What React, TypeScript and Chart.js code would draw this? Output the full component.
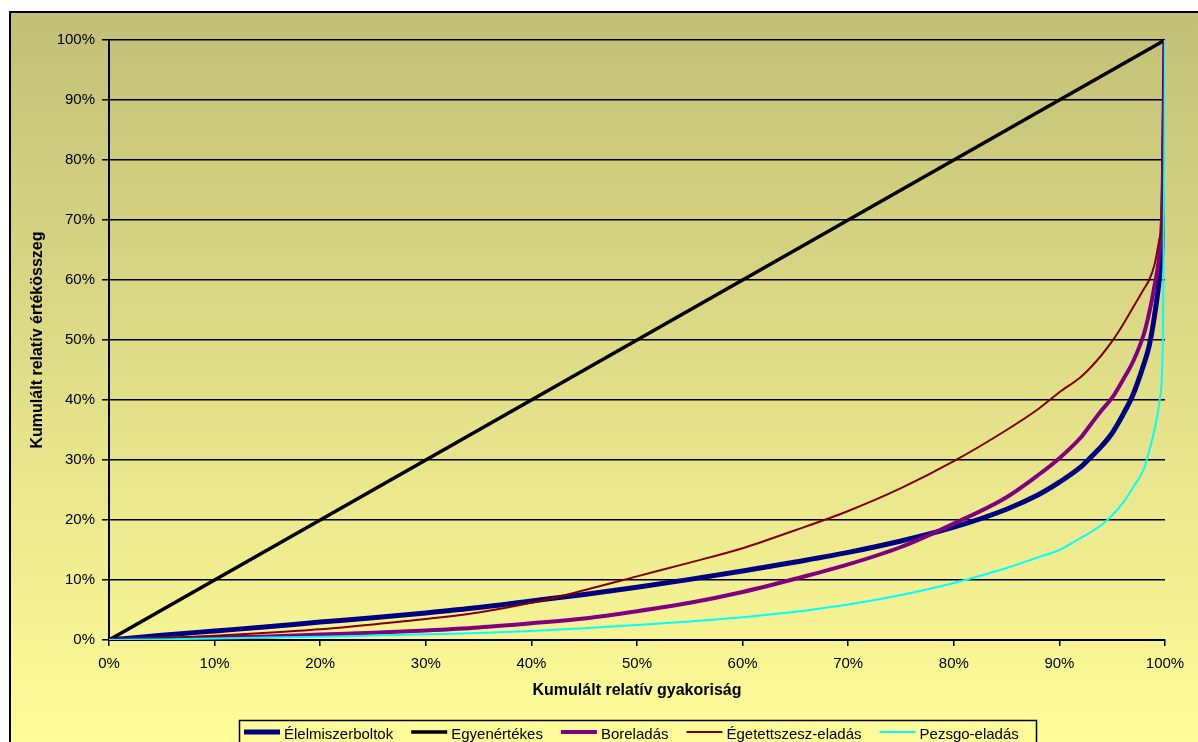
import React, { useEffect, useRef } from "react";
import { Chart, registerables } from "chart.js";

Chart.register(...registerables);

// Shared x positions (cumulative relative frequency, %)
const xValues = [0, 5, 10, 15, 20, 25, 30, 35, 40, 45, 50, 55, 60, 65, 70, 75, 80, 85, 88, 90, 92, 93, 94, 95, 96, 97, 98, 98.5, 99, 99.5, 99.8, 100];

const elelmiszerboltok = [0, 0.8, 1.5, 2.2, 3.0, 3.7, 4.5, 5.4, 6.5, 7.6, 8.8, 10.1, 11.5, 13.0, 14.6, 16.5, 18.8, 21.8, 24.2, 26.3, 28.8, 30.5, 32.3, 34.5, 37.5, 41.0, 46.0, 49.0, 54.0, 61.0, 70.0, 100];
const boreladas = [0, 0.2, 0.4, 0.6, 0.9, 1.2, 1.6, 2.1, 2.8, 3.6, 4.8, 6.2, 8.0, 10.2, 12.6, 15.5, 19.4, 23.8, 27.5, 30.3, 33.7, 36.0, 38.3, 40.4, 43.3, 46.5, 51.0, 54.5, 59.0, 65.0, 75.0, 100];
const egetettszesz = [0, 0.3, 0.7, 1.2, 1.8, 2.6, 3.5, 4.6, 6.2, 8.3, 10.6, 12.9, 15.3, 18.3, 21.5, 25.3, 29.8, 35.0, 38.5, 41.3, 43.8, 45.5, 47.5, 49.8, 52.5, 55.5, 58.5, 60.0, 62.5, 67.0, 72.0, 100];
const pezsgo = [0, 0.1, 0.25, 0.4, 0.55, 0.75, 0.95, 1.15, 1.5, 1.95, 2.5, 3.1, 3.8, 4.7, 5.9, 7.5, 9.5, 12.0, 13.8, 15.0, 17.0, 18.0, 19.2, 20.8, 22.8, 25.5, 28.5, 31.5, 35.0, 40.0, 50.0, 100];

const egyenXs = [0, 100];
const egyenertekes = [0, 100];

const axisTicks = [0, 10, 20, 30, 40, 50, 60, 70, 80, 90, 100];

const seriesLabels = ["Élelmiszerboltok", "Egyenértékes", "Boreladás", "Égetettszesz-eladás", "Pezsgo-eladás"];

const FONT = "Arial, 'Liberation Sans', sans-serif";

const toPoints = (xs: number[], ys: number[]) => xs.map((x, i) => ({ x, y: ys[i] }));

const bgPlugin = {
  id: "excelBg",
  beforeDraw(chart: any) {
    const { ctx, width, height } = chart;
    ctx.save();
    ctx.fillStyle = "#ffffff";
    ctx.fillRect(0, 0, width, height);
    const g = ctx.createLinearGradient(0, 12, 0, height);
    g.addColorStop(0, "#C2C077");
    g.addColorStop(1, "#FFFC99");
    ctx.fillStyle = g;
    ctx.fillRect(10, 12, width - 10, height - 12);
    ctx.strokeStyle = "#000";
    ctx.lineWidth = 2;
    ctx.strokeRect(10, 12, width + 20, height + 20);
    ctx.restore();
  },
};

const legendPlugin = {
  id: "excelLegend",
  afterDraw(chart: any) {
    const { ctx } = chart;
    ctx.save();
    ctx.font = `15px ${FONT}`;
    ctx.strokeStyle = "#000";
    ctx.lineWidth = 1.5;
    ctx.strokeRect(239.5, 720.5, 797, 40);
    let x = 244;
    chart.data.datasets.forEach((ds: any) => {
      ctx.strokeStyle = ds.borderColor;
      ctx.lineWidth = ds.borderWidth;
      ctx.beginPath();
      ctx.moveTo(x, 732);
      ctx.lineTo(x + 36, 732);
      ctx.stroke();
      ctx.fillStyle = "#000";
      ctx.textBaseline = "alphabetic";
      ctx.textAlign = "left";
      ctx.fillText(ds.label, x + 40, 739);
      x += 40 + ctx.measureText(ds.label).width + 18;
    });
    ctx.restore();
  },
};

export default function App() {
  const ref = useRef<HTMLCanvasElement | null>(null);

  useEffect(() => {
    document.body.style.margin = "0";
    document.body.style.overflow = "hidden";
    const canvas = ref.current;
    if (!canvas) return;
    const chart = new Chart(canvas, {
      type: "line",
      data: {
        datasets: [
          { label: seriesLabels[0], data: toPoints(xValues, elelmiszerboltok), borderColor: "#000080", borderWidth: 5, order: 5 },
          { label: seriesLabels[1], data: toPoints(egyenXs, egyenertekes), borderColor: "#000000", borderWidth: 3.5, order: 4 },
          { label: seriesLabels[2], data: toPoints(xValues, boreladas), borderColor: "#800080", borderWidth: 4, order: 3 },
          { label: seriesLabels[3], data: toPoints(xValues, egetettszesz), borderColor: "#800000", borderWidth: 2, order: 2 },
          { label: seriesLabels[4], data: toPoints(xValues, pezsgo), borderColor: "#00FFFF", borderWidth: 2, order: 1 },
        ] as any,
      },
      options: {
        animation: false,
        responsive: false,
        devicePixelRatio: 1,
        layout: { padding: { left: 0, top: 40, right: 33, bottom: 0 } },
        elements: { point: { radius: 0 }, line: { cubicInterpolationMode: "monotone" } },
        plugins: { legend: { display: false }, tooltip: { enabled: false }, title: { display: false } },
        scales: {
          x: {
            type: "linear",
            min: 0,
            max: 100,
            afterFit: (s: any) => { s.height = 102; },
            afterBuildTicks: (s: any) => { s.ticks = axisTicks.map((v) => ({ value: v })); },
            grid: { display: true, drawOnChartArea: false, drawTicks: true, tickLength: 6, color: "#000", lineWidth: 1.5 },
            border: { display: true, color: "#000", width: 2 },
            ticks: { autoSkip: false, maxRotation: 0, padding: 9, color: "#000", font: { family: FONT, size: 15 }, callback: (v: any) => `${v}%` },
            title: { display: true, text: "Kumulált relatív gyakoriság", color: "#000", font: { family: FONT, size: 16, weight: "bold" }, padding: { top: 0, bottom: 42 } },
          },
          y: {
            type: "linear",
            min: 0,
            max: 100,
            afterFit: (s: any) => { s.width = 109; },
            afterBuildTicks: (s: any) => { s.ticks = axisTicks.map((v) => ({ value: v })); },
            grid: { display: true, drawOnChartArea: true, drawTicks: true, tickLength: 7, color: "#000", lineWidth: 1.5 },
            border: { display: true, color: "#000", width: 2 },
            ticks: { autoSkip: false, padding: 7, color: "#000", font: { family: FONT, size: 15 }, callback: (v: any) => `${v}%` },
            title: { display: true, text: "Kumulált relatív értékösszeg", color: "#000", font: { family: FONT, size: 16, weight: "bold" }, padding: { top: 28, bottom: 0 } },
          },
        },
      } as any,
      plugins: [bgPlugin, legendPlugin],
    });
    return () => chart.destroy();
  }, []);

  return <canvas ref={ref} width={1198} height={742} style={{ display: "block", width: 1198, height: 742 }} />;
}
